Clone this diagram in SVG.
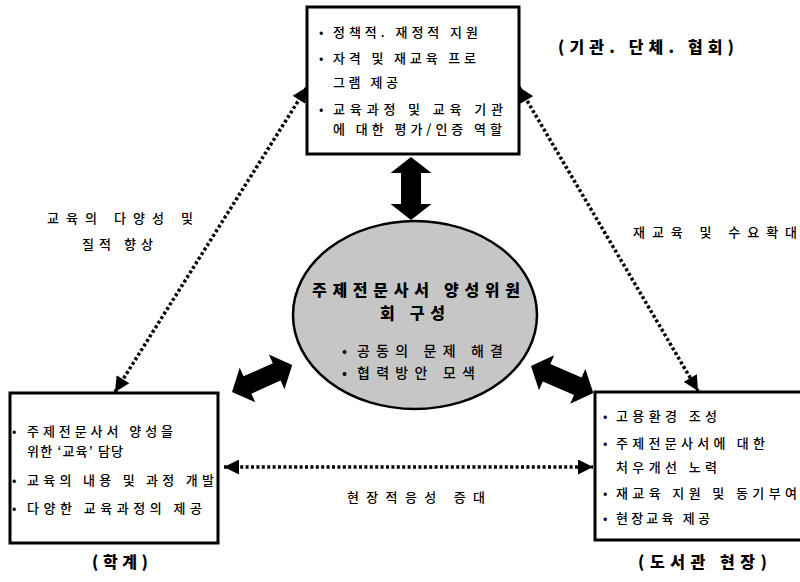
<svg xmlns="http://www.w3.org/2000/svg" width="800" height="582" viewBox="0 0 800 582">
<style>
text{font-family:"Noto Sans CJK KR","Noto Sans",sans-serif;fill:#000}
.t{font-size:13px;font-weight:500}
.b{font-size:13px}
.lbl{font-size:16px;font-weight:900}
.ttl{font-size:16px;font-weight:900}
.eb{font-size:14px;font-weight:500}
.box{fill:#fff;stroke:#000;stroke-width:3}
.dot{fill:none;stroke:#000;stroke-width:3.5;stroke-dasharray:3 2.4}
.big{fill:#000}
</style>
<defs>
<marker id="ah" viewBox="0 0 10 10" refX="10" refY="5" markerUnits="userSpaceOnUse" markerWidth="17" markerHeight="15" orient="auto-start-reverse">
<path d="M0,0 L10,5 L0,10 z" fill="#000"/>
</marker>
</defs>
<rect width="800" height="582" fill="#fff"/>
<g id="connectors">
<line class="dot" x1="115" y1="392" x2="307" y2="87" marker-start="url(#ah)" marker-end="url(#ah)"/>
<line class="dot" x1="519" y1="87" x2="698" y2="391" marker-start="url(#ah)" marker-end="url(#ah)"/>
<line class="dot" x1="224" y1="467" x2="593" y2="467" marker-start="url(#ah)" marker-end="url(#ah)"/>
<polygon class="big" transform="translate(411,157) rotate(90)" points="0,0 16,-20.5 16,-10 47,-10 47,-20.5 63,0 47,20.5 47,10 16,10 16,20.5"/>
<polygon class="big" transform="translate(232,392) rotate(-24.2)" points="0,0 17,-19 17,-9.5 49,-9.5 49,-19 66,0 49,19 49,9.5 17,9.5 17,19"/>
<polygon class="big" transform="translate(531,366) rotate(23.5)" points="0,0 17,-19 17,-9.5 51,-9.5 51,-19 68,0 51,19 51,9.5 17,9.5 17,19"/>
<text class="t" x="47" y="223" textLength="146" lengthAdjust="spacing">교육의 다양성 및</text>
<text class="t" x="82" y="249" textLength="71" lengthAdjust="spacing">질적 향상</text>
<text class="t" x="633" y="237" textLength="164" lengthAdjust="spacing">재교육 및 수요확대</text>
<text class="t" x="347" y="502" textLength="138" lengthAdjust="spacing">현장적응성 증대</text>
</g>
<g id="node-top">
<rect class="box" x="307" y="7" width="212" height="147"/>
<text class="b" x="319" y="37">•</text>
<text class="t" x="333" y="37" textLength="145" lengthAdjust="spacing">정책적. 재정적 지원</text>
<text class="b" x="319" y="63">•</text>
<text class="t" x="333" y="63" textLength="143" lengthAdjust="spacing">자격 및 재교육 프로</text>
<text class="t" x="333" y="87" textLength="65" lengthAdjust="spacing">그램 제공</text>
<text class="b" x="319" y="114">•</text>
<text class="t" x="333" y="114" textLength="170" lengthAdjust="spacing">교육과정 및 교육 기관</text>
<text class="t" x="333" y="134" textLength="169" lengthAdjust="spacing">에 대한 평가/인증 역할</text>
</g>
<text class="lbl" x="558" y="53" textLength="176" lengthAdjust="spacing">(기관. 단체. 협회)</text>
<g id="node-center">
<ellipse cx="415" cy="315" rx="122" ry="94" fill="#c6c6c6" stroke="#000" stroke-width="2.5"/>
<text class="ttl" x="312" y="296" textLength="208" lengthAdjust="spacing">주제전문사서 양성위원</text>
<text class="ttl" x="380" y="319" textLength="65" lengthAdjust="spacing">회 구성</text>
<text class="eb" x="342" y="356">•</text>
<text class="eb" x="357" y="356" textLength="146" lengthAdjust="spacing">공동의 문제 해결</text>
<text class="eb" x="342" y="378">•</text>
<text class="eb" x="357" y="378" textLength="118" lengthAdjust="spacing">협력방안 모색</text>
</g>
<g id="node-left">
<rect class="box" x="10" y="393" width="208" height="150"/>
<text class="b" x="12" y="436">•</text>
<text class="t" x="27" y="436" textLength="146" lengthAdjust="spacing">주제전문사서 양성을</text>
<text class="t" x="27" y="456" textLength="96" lengthAdjust="spacing">위한 ‘교육’ 담당</text>
<text class="b" x="12" y="485">•</text>
<text class="t" x="27" y="485" textLength="187" lengthAdjust="spacing">교육의 내용 및 과정 개발</text>
<text class="b" x="12" y="513">•</text>
<text class="t" x="27" y="513" textLength="175" lengthAdjust="spacing">다양한 교육과정의 제공</text>
</g>
<text class="lbl" x="92" y="568" textLength="56" lengthAdjust="spacing">(학계)</text>
<g id="node-right">
<rect class="box" x="595" y="392" width="210" height="148"/>
<text class="b" x="603" y="421">•</text>
<text class="t" x="616" y="421" textLength="101" lengthAdjust="spacing">고용환경 조성</text>
<text class="b" x="603" y="448">•</text>
<text class="t" x="616" y="448" textLength="149" lengthAdjust="spacing">주제전문사서에 대한</text>
<text class="t" x="616" y="472" textLength="101" lengthAdjust="spacing">처우개선 노력</text>
<text class="b" x="603" y="498">•</text>
<text class="t" x="616" y="498" textLength="181" lengthAdjust="spacing">재교육 지원 및 동기부여</text>
<text class="b" x="603" y="523">•</text>
<text class="t" x="616" y="523" textLength="94" lengthAdjust="spacing">현장교육 제공</text>
</g>
<text class="lbl" x="638" y="568" textLength="129" lengthAdjust="spacing">(도서관 현장)</text>
</svg>
